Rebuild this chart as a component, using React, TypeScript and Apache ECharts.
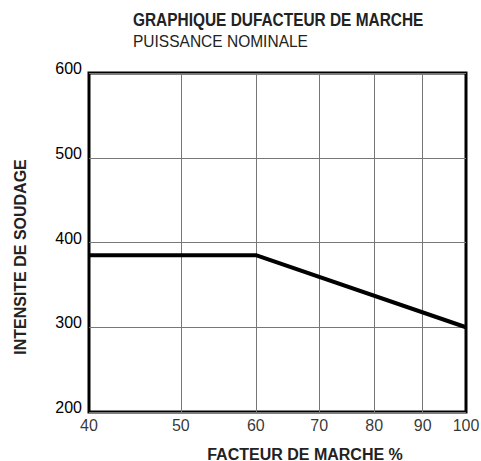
import React, { useEffect, useRef } from "react";
import * as echarts from "echarts";

const title = "GRAPHIQUE DUFACTEUR DE MARCHE";
const subtitle = "PUISSANCE NOMINALE";
const xName = "FACTEUR DE MARCHE %";
const yName = "INTENSITE DE SOUDAGE";
const xTicks = [40, 50, 60, 70, 80, 90, 100];
const xGrid = [50, 60, 70, 80, 90];
const dutyCycle = [40, 60, 100];
const current = [385, 385, 300];

const FONT = "'Liberation Sans', Arial, Helvetica, sans-serif";

export default function App() {
  const ref = useRef<HTMLDivElement>(null);
  useEffect(() => {
    if (!ref.current) return;
    const chart = echarts.init(ref.current, null, { renderer: "svg" });
    chart.setOption({
      animation: false,
      backgroundColor: "#fff",
      textStyle: { fontFamily: FONT },
      grid: {
        left: 89,
        right: 15,
        top: 73,
        bottom: 49,
        show: true,
        borderColor: "#000",
        borderWidth: 3,
        backgroundColor: "transparent",
      },
      xAxis: {
        type: "log",
        logBase: 10,
        min: 40,
        max: 100,
        axisLine: { show: false },
        axisTick: { show: false },
        axisLabel: { show: false },
        splitLine: { show: false },
      },
      yAxis: {
        type: "value",
        min: 200,
        max: 600,
        interval: 100,
        axisLine: { show: false },
        axisTick: { show: false },
        axisLabel: {
          color: "#000",
          fontSize: 16,
          fontFamily: FONT,
          margin: 7,
          verticalAlign: "bottom",
          lineHeight: 9,
        },
        splitLine: { show: true, lineStyle: { color: "#777", width: 1 } },
      },
      graphic: [
        {
          type: "text",
          x: 133,
          y: 11,
          scaleX: 0.857,
          style: { text: title, font: `bold 18px ${FONT}`, fill: "#222" },
        },
        {
          type: "text",
          x: 133,
          y: 33,
          scaleX: 0.97,
          style: { text: subtitle, font: `16px ${FONT}`, fill: "#222" },
        },
        {
          type: "text",
          x: 20,
          y: 257,
          rotation: Math.PI / 2,
          style: {
            text: yName,
            font: `bold 16px ${FONT}`,
            fill: "#222",
            align: "center",
            verticalAlign: "middle",
          },
        },
        {
          type: "text",
          x: 305,
          y: 454,
          style: {
            text: xName,
            font: `bold 16px ${FONT}`,
            fill: "#222",
            align: "center",
            verticalAlign: "middle",
          },
        },
      ],
      series: [
        {
          type: "line",
          data: dutyCycle.map((d, i) => [d, current[i]]),
          symbol: "none",
          lineStyle: { color: "#000", width: 4 },
          z: 5,
          markLine: {
            silent: true,
            symbol: ["none", "none"],
            label: { show: false },
            lineStyle: { color: "#777", width: 1, type: "solid" },
            data: xGrid.map((v) => ({ xAxis: v })),
            z: 1,
          },
        },
        {
          type: "scatter",
          data: xTicks.map((v) => [v, 200]),
          symbolSize: 0,
          clip: false,
          silent: true,
          label: {
            show: true,
            position: "bottom",
            distance: 5,
            color: "#000",
            fontSize: 16,
            fontFamily: FONT,
            formatter: (p: any) => String(p.value[0]),
          },
        },
      ],
    });
    return () => chart.dispose();
  }, []);
  return (
    <div
      ref={ref}
      style={{ position: "fixed", left: 0, top: 0, width: 481, height: 461 }}
    />
  );
}
